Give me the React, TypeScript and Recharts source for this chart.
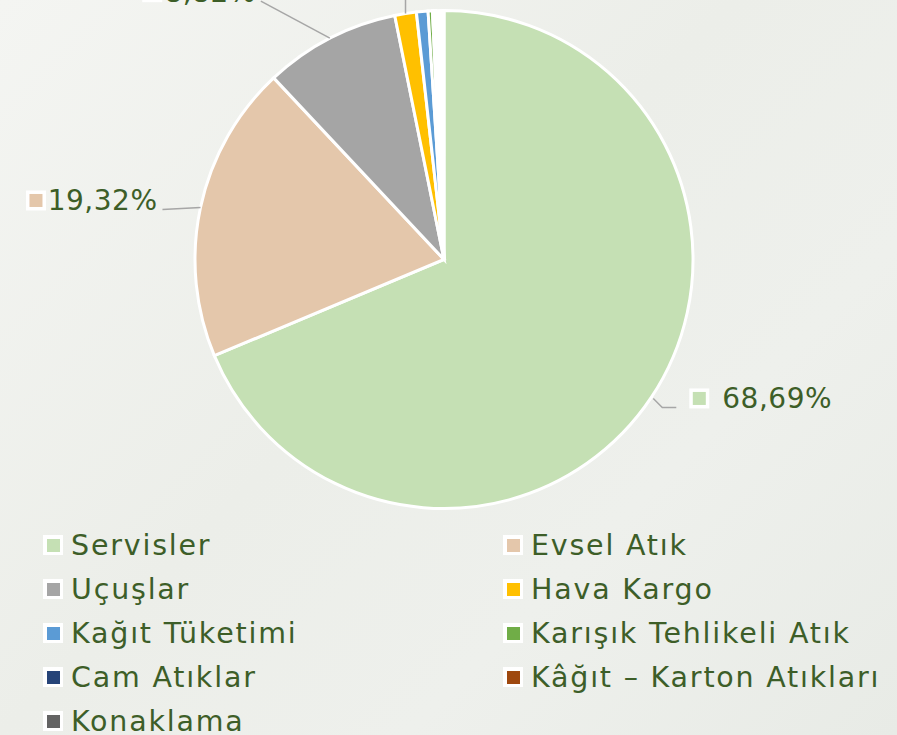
import React from 'react';
import { PieChart, Pie, Cell } from 'recharts';

const CATEGORIES = [
  'Servisler',
  'Evsel Atık',
  'Uçuşlar',
  'Hava Kargo',
  'Kağıt Tüketimi',
  'Karışık Tehlikeli Atık',
  'Cam Atıklar',
  'Kâğıt – Karton Atıkları',
  'Konaklama',
];
const VALUES = [68.69, 19.32, 8.82, 1.4, 0.75, 0.28, 0.1, 0.1, 0.54];
const COLORS = ['#c5e0b4', '#e4c7ab', '#a5a5a5', '#ffc000', '#5b9bd5', '#70ad47', '#264478', '#9e480e', '#636363'];
// the last three slices show up white in the pie itself
const PIE_FILLS = ['#c5e0b4', '#e4c7ab', '#a5a5a5', '#ffc000', '#5b9bd5', '#70ad47', '#ffffff', '#ffffff', '#ffffff'];

const data = CATEGORIES.map((name, i) => ({ name, value: VALUES[i] }));

const TEXT = '#3d5e28';
const FONT = '"DejaVu Sans", sans-serif';
const RAD = Math.PI / 180;

// label leader-line end, relative to the slice edge (labels were dragged in the original)
const LABEL_NUDGE: Record<number, [number, number]> = {
  0: [25, 10],
  1: [-38, 2],
  2: [-69, -37],
  3: [0, -45],
};

const renderLabel = (props: any) => {
  const { cx, cy, midAngle, outerRadius, index } = props;
  const nudge = LABEL_NUDGE[index];
  if (!nudge) return null;
  const ex = cx + Math.cos(-midAngle * RAD) * outerRadius;
  const ey = cy + Math.sin(-midAngle * RAD) * outerRadius;
  const lx = ex + nudge[0];
  const ly = ey + nudge[1];
  const right = nudge[0] > 0;
  const txt = VALUES[index].toFixed(2).replace('.', ',') + '%';
  const fs = 28;
  const tw = txt.length * 0.64 * fs;
  const ty = ly - 9;
  let points = `${ex},${ey} ${lx},${ly}`;
  if (index === 0) points = `${ex + 2},${ey + 1} ${ex + 11},${ly} ${lx},${ly}`;
  const textX = right ? lx + 46 : lx - 5;
  const sqX = right ? lx + 13 : lx - 5 - tw - 24;
  return (
    <g key={`lbl-${index}`}>
      <polyline points={points} fill="none" stroke="#a6a6a6" strokeWidth={1.5} />
      <rect x={sqX} y={ty - 10} width={20} height={20} fill="#ffffff" />
      <rect x={sqX + 3.5} y={ty - 6.5} width={13} height={13} fill={COLORS[index]} />
      <text
        x={textX}
        y={ty}
        dy="0.35em"
        textAnchor={right ? 'start' : 'end'}
        fill={TEXT}
        fontSize={fs}
        fontFamily={FONT}
        letterSpacing={0.5}
      >
        {txt}
      </text>
    </g>
  );
};

const Legend2Col = () => (
  <div
    style={{
      position: 'absolute',
      left: 43,
      top: 523,
      width: 854,
      display: 'grid',
      gridTemplateColumns: '460px 394px',
      fontFamily: FONT,
      fontSize: 28.5,
      letterSpacing: 1.8,
      color: TEXT,
    }}
  >
    {CATEGORIES.map((name, i) => (
      <div key={name} style={{ display: 'flex', alignItems: 'center', height: 44, whiteSpace: 'nowrap' }}>
        <div
          style={{
            width: 20,
            height: 20,
            background: '#ffffff',
            display: 'flex',
            alignItems: 'center',
            justifyContent: 'center',
            marginRight: 8,
            flex: 'none',
          }}
        >
          <div style={{ width: 13, height: 13, background: COLORS[i] }} />
        </div>
        <span>{name}</span>
      </div>
    ))}
  </div>
);

export default function App() {
  return (
    <div
      style={{
        position: 'fixed',
        left: 0,
        top: 0,
        width: 897,
        height: 735,
        overflow: 'hidden',
        background: 'linear-gradient(135deg, #f4f5f2 0%, #eceee9 45%, #eef0ec 70%, #e8ebe6 100%)',
      }}
    >
      <PieChart
        width={897}
        height={735}
        margin={{ top: 0, right: 0, bottom: 0, left: 0 }}
        style={{ position: 'absolute', left: 0, top: 0 }}
      >
        <Pie
          data={data}
          dataKey="value"
          nameKey="name"
          cx={444}
          cy={259.5}
          outerRadius={249}
          startAngle={90}
          endAngle={-270}
          stroke="#ffffff"
          strokeWidth={3}
          label={renderLabel}
          labelLine={false}
          isAnimationActive={false}
        >
          {data.map((d, i) => (
            <Cell key={d.name} fill={PIE_FILLS[i]} />
          ))}
        </Pie>
      </PieChart>
      <Legend2Col />
    </div>
  );
}
